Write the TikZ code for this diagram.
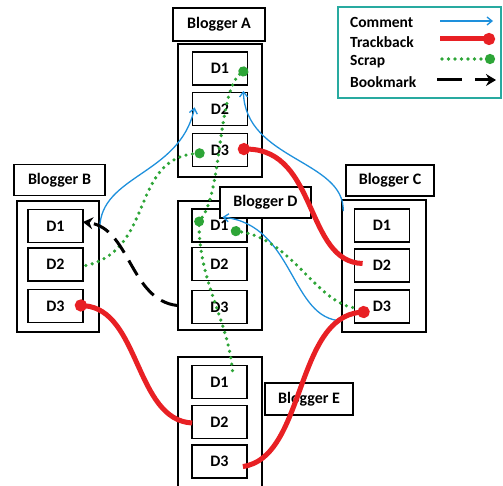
\documentclass[tikz,border=0pt]{standalone}
\usepackage{fontspec}
\setmainfont{Carlito}
\usetikzlibrary{arrows.meta,calc}
\definecolor{cmt}{RGB}{30,144,220}
\definecolor{trk}{RGB}{232,32,36}
\definecolor{scr}{RGB}{45,165,55}
\definecolor{lgb}{RGB}{40,170,160}
\tikzset{
 lbl/.style={draw=black, line width=1.2pt, fill=white, minimum height=31pt, inner sep=0pt, font=\fontsize{16}{18}\selectfont\bfseries},
 cont/.style={draw=black, line width=1.6pt, inner sep=0pt},
 doc/.style={draw=black, line width=1.8pt, fill=white, minimum width=55pt, minimum height=33pt, inner sep=0pt, font=\fontsize{16}{18}\selectfont\bfseries},
 legtext/.style={anchor=west, inner sep=0pt, font=\fontsize{15.5}{18}\selectfont\bfseries},
 comment/.style={draw=cmt, line width=1.3pt, -{Straight Barb[length=5pt,width=8pt]}},
 trackback/.style={draw=trk, line width=5pt, -{Circle[length=12pt]}},
 scrap/.style={draw=scr, line width=3.6pt, line cap=round, dash pattern=on 0pt off 6.5pt, -{Circle[length=10pt]}},
 bookmark/.style={draw=black, line width=3pt, dash pattern=on 17pt off 9pt, -{Stealth[length=10pt,width=12pt]}},
}
\begin{document}
\begin{tikzpicture}[x=1pt,y=-1pt]
\useasboundingbox (0,0) rectangle (503,486);
\clip (0,0) rectangle (503,486);
% containers
\node[cont, minimum width=84pt, minimum height=133pt] (cA) at (220,110.5) {};
\node[cont, minimum width=82pt, minimum height=131pt] (cB) at (58,266.5) {};
\node[cont, minimum width=84pt, minimum height=129pt] (cD) at (220,265.5) {};
\node[cont, minimum width=84pt, minimum height=132pt] (cC) at (384,266) {};
\node[cont, minimum width=84pt, minimum height=143pt] (cE) at (220,428.5) {};
% documents
\node[doc] (aD1) at (220,68.5) {D1};
\node[doc] (aD2) at (220,109) {D2};
\node[doc] (aD3) at (220,150) {D3};
\node[doc] (bD1) at (55.5,226) {D1};
\node[doc] (bD2) at (55.5,264.5) {D2};
\node[doc] (bD3) at (55.5,306) {D3};
\node[doc] (dD1) at (219.5,225.5) {D1};
\node[doc] (dD2) at (219.5,264) {D2};
\node[doc] (dD3) at (219.5,307) {D3};
\node[doc] (cD1) at (382,225.5) {D1};
\node[doc] (cD2) at (382,265.5) {D2};
\node[doc] (cD3) at (382,306.5) {D3};
\node[doc] (eD1) at (219.5,382) {D1};
\node[doc] (eD2) at (219.5,422) {D2};
\node[doc] (eD3) at (219.5,461.5) {D3};
% labels
\node[lbl, minimum width=92pt, minimum height=33pt] (lA) at (219,24.5) {Blogger A};
\node[lbl, minimum width=91pt] (lB) at (59.5,180) {Blogger B};
\node[lbl, minimum width=88pt] (lC) at (390,180.5) {Blogger C};
\node[lbl, minimum width=91pt] (lD) at (265.5,202.5) {Blogger D};
\node[lbl, minimum width=88pt, minimum height=32pt] (lE) at (309,399) {Blogger E};
% comments
\draw[comment] ($(cB.east)+(0,-38)$) .. controls (100,175) and (180,175) .. ($(aD2.south west)+(3,-19)$);
\draw[comment] ($(cC.north west)+(2,12)$) .. controls (345,160) and (245,160) .. ($(aD1.south east)+(-5,5)$);
\draw[comment] ($(cC.south west)+(1,-12)$) .. controls (290,320) and (295,225) .. ($(dD1.north)+(3,9)$);
% trackbacks
\draw[trackback] ($(cD2.west)+(9,-2)$) .. controls (305,262) and (318,150) .. ($(aD3.east)+(-10.5,-1)$);
\draw[trackback] ($(eD3.east)+(-5,5)$) .. controls (305,458) and (295,318) .. ($(cD3.west)+(16,5)$);
\draw[trackback] ($(eD2.west)+(1,1)$) .. controls (135,420) and (140,310) .. ($(bD3.east)+(-9,-1)$);
% scraps
\draw[scrap] ($(bD2.east)+(2,1)$) .. controls (155,250) and (130,158) .. ($(aD3.west)+(13,3)$);
\draw[scrap, -] ($(eD1.north)+(13,6)$) .. controls (228,320) and (198,280) .. ($(dD1.west)+(8,-4)$);
\node[circle, fill=scr, inner sep=0pt, minimum size=10pt] (sdot) at ($(dD1.west)+(8,-4)$) {};
\draw[scrap] (sdot) .. controls (222,190) and (218,90) .. ($(aD1.east)+(-1,0)$);
\draw[scrap] ($(cD3.west)+(-1,1)$) .. controls (315,300) and (290,238) .. ($(dD1.east)+(-17,5)$);
% bookmark
\draw[bookmark] ($(cD.west)+(0,40)$) .. controls (130,300) and (130,228) .. ($(bD1.east)+(-1,-4)$);
% legend
\node[draw=lgb, line width=1.5pt, minimum width=163pt, minimum height=91pt, inner sep=0pt] (leg) at (419.5,52.5) {};
\node[legtext] (t1) at (350,22) {Comment};
\node[legtext] (t2) at (350,42) {Trackback};
\node[legtext] (t3) at (350,62) {Scrap};
\node[legtext] (t4) at (350,82) {Bookmark};
\coordinate (s1a) at (440,21); \coordinate (s1b) at (493,21);
\coordinate (s2a) at (440,39); \coordinate (s2b) at (495,39);
\coordinate (s3a) at (442,59); \coordinate (s3b) at (495,59);
\coordinate (s4a) at (437,80); \coordinate (s4b) at (496,80);
\draw[comment] (s1a) -- (s1b);
\draw[trackback] (s2a) -- (s2b);
\draw[scrap] (s3a) -- (s3b);
\draw[bookmark, dash pattern=on 25pt off 13pt] (s4a) -- (s4b);
\end{tikzpicture}
\end{document}
